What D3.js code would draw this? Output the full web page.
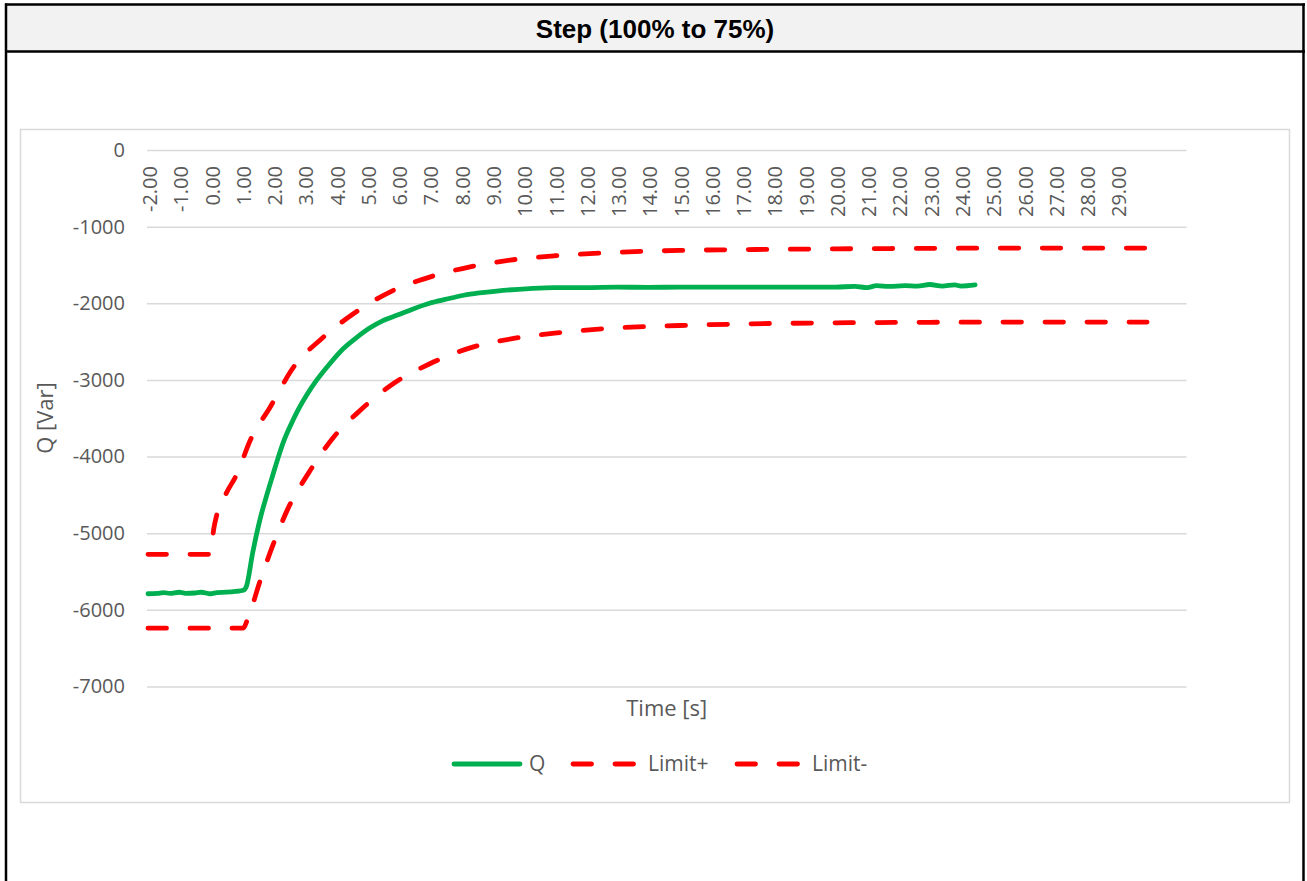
<!DOCTYPE html>
<html>
<head>
<meta charset="utf-8">
<script src="https://cdn.jsdelivr.net/npm/d3@7/dist/d3.min.js"></script>
<style>
  html, body { margin: 0; padding: 0; background: #fff; }
  svg { display: block; }
  .tick-label { font-family: "Open Sans", sans-serif; fill: #595959; }
</style>
</head>
<body>
<svg id="chart" width="1307" height="881"></svg>
<script>
// values
const chartTitle = "Step (100% to 75%)";
const xTickLabels = d3.range(-2, 30); // -2.00 .. 29.00
const yTicks = [0, -1000, -2000, -3000, -4000, -5000, -6000, -7000];

const qTime = [-2, -1.7, -1.5, -1.3, -1.0, -0.8, -0.5, -0.3, 0.0, 0.2, 0.5, 0.8, 1.05, 1.15, 1.35, 1.6, 1.8, 2.0, 2.15, 2.35, 2.55, 2.8, 3.1, 3.4, 3.8, 4.25, 4.6, 5.1, 5.5, 6.0, 6.5, 7.0, 7.5, 8.1, 8.6, 9.15, 10.2, 11, 12, 13, 14, 15, 16, 17, 18, 19, 20, 20.6, 21.0, 21.3, 21.7, 22.2, 22.6, 23.0, 23.4, 23.8, 24.0, 24.45];
const qValue = [-5790, -5785, -5775, -5785, -5770, -5785, -5780, -5770, -5790, -5775, -5770, -5760, -5745, -5690, -5250, -4790, -4500, -4230, -4030, -3790, -3600, -3390, -3180, -3000, -2795, -2590, -2470, -2320, -2230, -2150, -2070, -2000, -1950, -1895, -1865, -1840, -1808, -1795, -1795, -1790, -1792, -1790, -1790, -1788, -1790, -1790, -1788, -1780, -1795, -1770, -1780, -1770, -1775, -1755, -1775, -1760, -1775, -1760];

const limPlusTime = [-2, 0, 0.1, 0.21, 0.5, 0.85, 1.27, 1.91, 2.66, 3.56, 4.58, 5.75, 7.03, 8.3, 9.58, 11, 13, 15, 17, 20, 23, 26, 29.95];
const limPlusValue = [-5276, -5276, -4950, -4745, -4480, -4222, -3787, -3352, -2830, -2459, -2133, -1850, -1655, -1524, -1437, -1380, -1335, -1310, -1300, -1290, -1283, -1280, -1280];

const limMinusTime = [-2, 1.05, 1.17, 1.59, 2.0, 2.45, 3.19, 3.94, 4.79, 5.85, 7.03, 8.41, 9.69, 11, 13, 15, 17, 20, 23, 26, 29.95];
const limMinusValue = [-6239, -6239, -6138, -5616, -5150, -4702, -4179, -3744, -3396, -3047, -2786, -2569, -2459, -2390, -2320, -2290, -2270, -2255, -2248, -2245, -2245];

const series = [
  { name: "Q", time: qTime, value: qValue, color: "#00b050", dashed: false },
  { name: "Limit+", time: limPlusTime, value: limPlusValue, color: "#ff0000", dashed: true },
  { name: "Limit-", time: limMinusTime, value: limMinusValue, color: "#ff0000", dashed: true },
];

const plot = { left: 147, right: 1186.5, top: 150, bottom: 686.5 };
const DASH = "18.5 23.5";
const LINE_W = 4.8;

const svg = d3.select("#chart");

function drawFrame() {
  svg.append("rect")
    .attr("x", 6).attr("y", 4).attr("width", 1297.5).attr("height", 48)
    .attr("fill", "#f2f2f2");

  const frame = svg.append("g")
    .attr("stroke", "#000")
    .attr("stroke-width", 2.5);
  frame.append("line").attr("x1", 5).attr("x2", 1305).attr("y1", 4.5).attr("y2", 4.5);
  frame.append("line").attr("x1", 5).attr("x2", 1305).attr("y1", 51.5).attr("y2", 51.5);
  frame.append("line").attr("x1", 6).attr("x2", 6).attr("y1", 3.5).attr("y2", 881);
  frame.append("line").attr("x1", 1303.5).attr("x2", 1303.5).attr("y1", 3.5).attr("y2", 881);

  svg.append("text")
    .attr("x", 655).attr("y", 29)
    .attr("dy", "0.35em")
    .attr("text-anchor", "middle")
    .attr("font-family", "Liberation Sans, Arial, sans-serif")
    .attr("font-weight", "bold")
    .attr("font-size", 26)
    .attr("fill", "#000")
    .text(chartTitle);

  // chart area border
  svg.append("rect")
    .attr("x", 20.5).attr("y", 129.5)
    .attr("width", 1269).attr("height", 673)
    .attr("fill", "none")
    .attr("stroke", "#d9d9d9")
    .attr("stroke-width", 1.5);
}

drawFrame();

const x = d3.scaleLinear()
  .domain([-2, 29])
  .range([148, 148 + 31 * 31.27]);

const y = d3.scaleLinear()
  .domain([-7000, 0])
  .range([plot.bottom, plot.top]);

// horizontal gridlines + y axis labels
const yAxis = d3.axisLeft(y)
  .tickValues(yTicks)
  .tickSize(-(plot.right - plot.left))
  .tickPadding(22)
  .tickFormat((d) => String(d));

const yG = svg.append("g")
  .attr("transform", `translate(${plot.left},0)`)
  .call(yAxis);
yG.select(".domain").remove();
yG.selectAll(".tick line")
  .attr("stroke", "#d9d9d9")
  .attr("stroke-width", 1.5);
yG.selectAll(".tick text")
  .attr("class", "tick-label")
  .attr("font-size", 20)
  .attr("font-family", "Open Sans, sans-serif")
  .attr("fill", "#595959");

// x labels sit next to the zero line, rotated
const xG = svg.append("g")
  .attr("class", "x-labels");
xG.selectAll("text")
  .data(xTickLabels)
  .join("text")
  .attr("class", "tick-label")
  .attr("font-size", 20)
  .attr("text-anchor", "end")
  .attr("dy", "0.35em")
  .attr("transform", (d) => `translate(${x(d) + 2},${y(0) + 16}) rotate(-90)`)
  .text((d) => d.toFixed(2));

// series lines
const lineGen = d3.line()
  .curve(d3.curveMonotoneX)
  .x((d) => x(d.t))
  .y((d) => y(d.v));

const linesG = svg.append("g").attr("class", "series");
linesG.selectAll("path")
  .data(series)
  .join("path")
  .attr("d", (s) => lineGen(s.time.map((t, i) => ({ t, v: s.value[i] }))))
  .attr("fill", "none")
  .attr("stroke", (s) => s.color)
  .attr("stroke-width", LINE_W)
  .attr("stroke-linejoin", "round")
  .attr("stroke-linecap", "round")
  .attr("stroke-dasharray", (s) => (s.dashed ? DASH : null));

// axis titles
svg.append("text")
  .attr("transform", "translate(45,418) rotate(-90)")
  .attr("text-anchor", "middle")
  .attr("dy", "0.35em")
  .attr("font-family", "Open Sans, sans-serif")
  .attr("font-size", 22)
  .attr("fill", "#595959")
  .text("Q [Var]");

svg.append("text")
  .attr("x", (plot.left + plot.right) / 2)
  .attr("y", 708)
  .attr("text-anchor", "middle")
  .attr("dy", "0.35em")
  .attr("font-family", "Open Sans, sans-serif")
  .attr("font-size", 22)
  .attr("fill", "#595959")
  .text("Time [s]");

// legend
const legendItems = [
  { s: series[0], x1: 454, x2: 520, tx: 529 },
  { s: series[1], x1: 573, x2: 634, tx: 648 },
  { s: series[2], x1: 737, x2: 798, tx: 812 },
];
const legendY = 764;
const legendG = svg.append("g").attr("class", "legend");
const item = legendG.selectAll("g")
  .data(legendItems)
  .join("g");
item.append("line")
  .attr("x1", (d) => d.x1).attr("x2", (d) => d.x2)
  .attr("y1", legendY).attr("y2", legendY)
  .attr("stroke", (d) => d.s.color)
  .attr("stroke-width", LINE_W)
  .attr("stroke-linecap", "round")
  .attr("stroke-dasharray", (d) => (d.s.dashed ? DASH : null));
item.append("text")
  .attr("x", (d) => d.tx)
  .attr("y", legendY)
  .attr("dy", "0.35em")
  .attr("font-family", "Open Sans, sans-serif")
  .attr("font-size", 21)
  .attr("fill", "#595959")
  .text((d) => d.s.name);
</script>
</body>
</html>
